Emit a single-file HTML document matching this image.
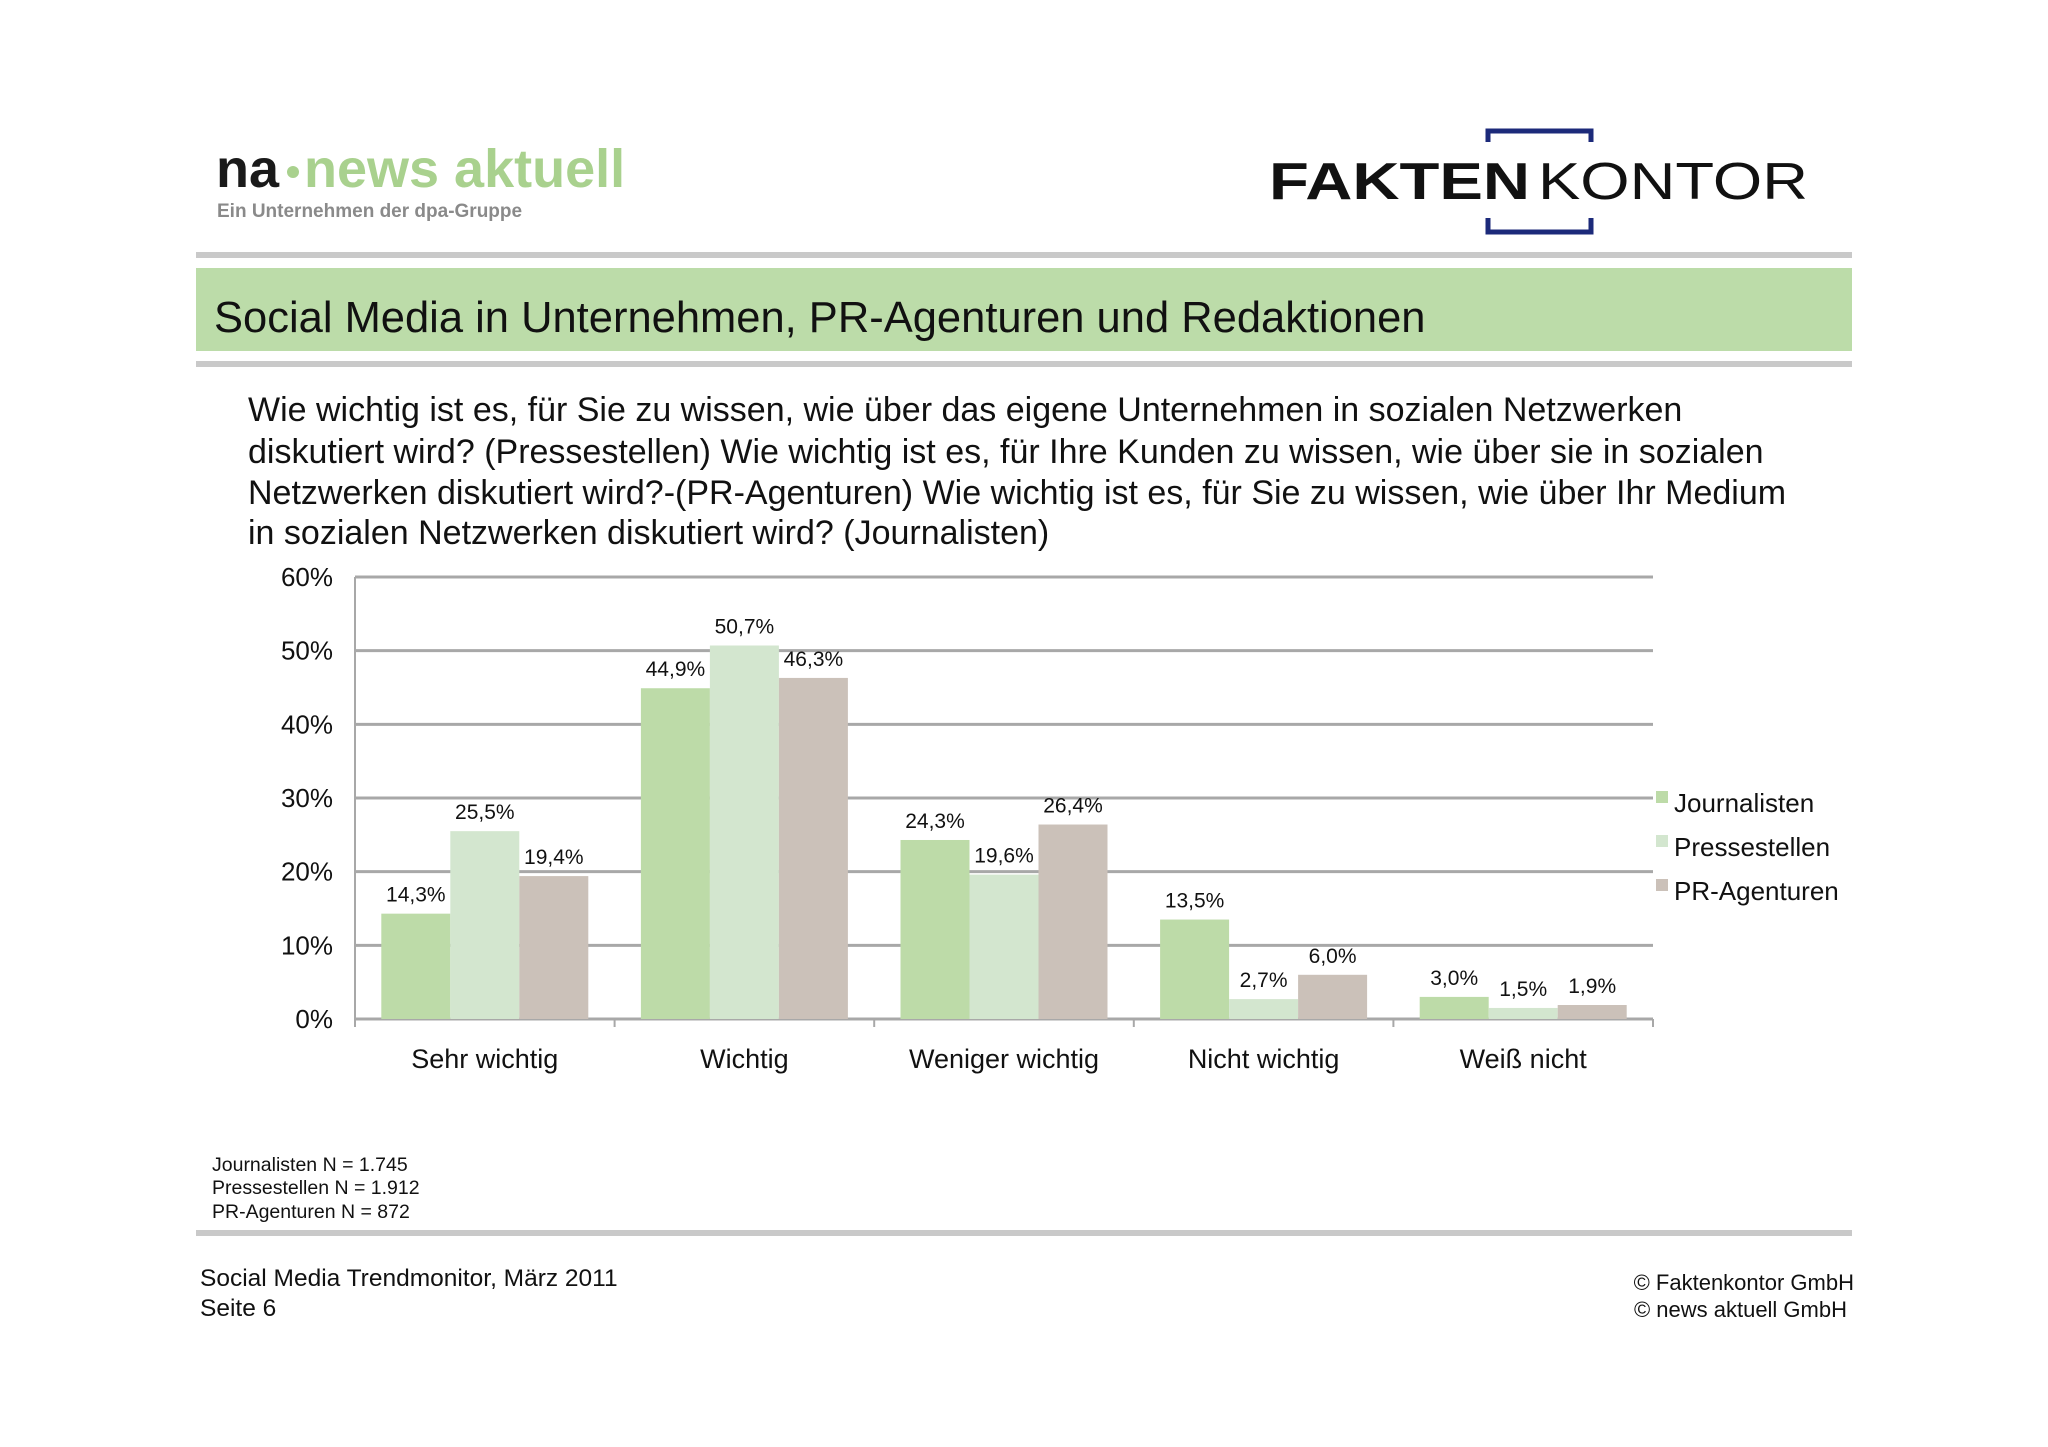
<!DOCTYPE html>
<html><head><meta charset="utf-8"><style>
html,body{margin:0;padding:0;background:#fff;}
svg{display:block;font-family:"Liberation Sans",Arial,sans-serif;}
</style></head><body>
<svg id="page" width="2048" height="1447" viewBox="0 0 2048 1447">
<g>
<text x="216" y="187" font-size="54" font-weight="bold" fill="#1a1a1a">na</text>
<circle cx="293" cy="172" r="6" fill="#a9d18e"/>
<text x="304" y="187" font-size="54" font-weight="bold" fill="#a9d18e">news aktuell</text>
<text x="217" y="217" font-size="19" font-weight="bold" fill="#8a8a8a">Ein Unternehmen der dpa-Gruppe</text>
</g>
<g>
<path d="M1488 142 V131 H1591 V142" fill="none" stroke="#1c2a7a" stroke-width="5"/>
<path d="M1488 218 V232 H1591 V218" fill="none" stroke="#1c2a7a" stroke-width="5"/>
<text x="1269" y="199" font-size="52" font-weight="bold" fill="#111" textLength="261" lengthAdjust="spacingAndGlyphs">FAKTEN</text>
<text x="1538" y="199" font-size="52" fill="#111" textLength="270" lengthAdjust="spacingAndGlyphs">KONTOR</text>
</g>
<rect x="196" y="252" width="1656" height="6" fill="#c9c9c9"/>
<rect x="196" y="268" width="1656" height="83" fill="#bcdca9"/>
<text x="214" y="332" font-size="43.5" fill="#111">Social Media in Unternehmen, PR-Agenturen und Redaktionen</text>
<rect x="196" y="361" width="1656" height="6" fill="#c9c9c9"/>
<g font-size="34" fill="#111">
<text x="248" y="421">Wie wichtig ist es, für Sie zu wissen, wie über das eigene Unternehmen in sozialen Netzwerken</text>
<text x="248" y="463">diskutiert wird? (Pressestellen) Wie wichtig ist es, für Ihre Kunden zu wissen, wie über sie in sozialen</text>
<text x="248" y="504">Netzwerken diskutiert wird?-(PR-Agenturen) Wie wichtig ist es, für Sie zu wissen, wie über Ihr Medium</text>
<text x="248" y="544">in sozialen Netzwerken diskutiert wird? (Journalisten)</text>
</g>
<g id="chart"></g>
<g font-size="19.5" fill="#111">
<text x="212" y="1171">Journalisten N = 1.745</text>
<text x="212" y="1194">Pressestellen N = 1.912</text>
<text x="212" y="1218">PR-Agenturen N = 872</text>
</g>
<rect x="196" y="1230" width="1656" height="6" fill="#c9c9c9"/>
<g font-size="24.5" fill="#111">
<text x="200" y="1286">Social Media Trendmonitor, März 2011</text>
<text x="200" y="1316">Seite 6</text>
</g>
<g font-size="22" fill="#111" text-anchor="end">
<text x="1854" y="1290">© Faktenkontor GmbH</text>
<text x="1847" y="1317">© news aktuell GmbH</text>
</g>
</svg>
<script>
const categories = ["Sehr wichtig","Wichtig","Weniger wichtig","Nicht wichtig","Weiß nicht"];
const seriesNames = ["Journalisten","Pressestellen","PR-Agenturen"];
const journalisten = [14.3,44.9,24.3,13.5,3.0];
const pressestellen = [25.5,50.7,19.6,2.7,1.5];
const prAgenturen = [19.4,46.3,26.4,6.0,1.9];
const yTicks = [0,10,20,30,40,50,60];
const series = [journalisten, pressestellen, prAgenturen];
const colors = ["#bddba8","#d3e6cf","#cbc1b9"];
const NS="http://www.w3.org/2000/svg";
const g=document.getElementById('chart');
const x0=355,x1=1653,yTop=577,yBot=1019,yMax=60;
const y=v=>yBot-(v/yMax)*(yBot-yTop);
const catW=(x1-x0)/categories.length;
const barW=69, pad=(catW-3*barW)/2;
function mk(tag,attrs,txt){const e=document.createElementNS(NS,tag);for(const k in attrs)e.setAttribute(k,attrs[k]);if(txt!==undefined)e.textContent=txt;g.appendChild(e);return e;}
yTicks.forEach(t=>{
  const l=mk('line',{x1:x0,x2:x1,y1:y(t),y2:y(t),stroke:'#a8a8a8','stroke-width':3});
  
  
  const tx=mk('text',{x:333,y:y(t)+9,'font-size':26,'text-anchor':'end',fill:'#111'},t+'%');
  
  
});
const ax=mk('line',{x1:x0,x2:x0,y1:yTop,y2:yBot+8,stroke:'#a8a8a8','stroke-width':2});


for(let i=0;i<=categories.length;i++){
  const tk=mk('line',{x1:x0+i*catW,x2:x0+i*catW,y1:yBot,y2:yBot+8,stroke:'#a8a8a8','stroke-width':2});
  
  
}
categories.forEach((c,i)=>{
  series.forEach((s,j)=>{
    const bx=x0+i*catW+pad+j*barW, v=s[i];
    const r=mk('rect',{x:bx,y:y(v),width:barW,height:yBot-y(v),fill:colors[j]});
    
    
    const lt=mk('text',{x:bx+barW/2,y:y(v)-12,'font-size':21,'text-anchor':'middle',fill:'#111'},v.toFixed(1).replace('.',',')+'%');
    
    
  });
  const cl=mk('text',{x:x0+(i+0.5)*catW,y:1068,'font-size':27,'text-anchor':'middle',fill:'#111'},c);
  
  
});
seriesNames.forEach((n,j)=>{
  const ly=803+j*44;
  const sq=mk('rect',{x:1656,y:ly-12,width:12,height:12,fill:colors[j]});
  
  
  const t=mk('text',{x:1674,y:ly+9,'font-size':26,fill:'#111'},n);
  
  
});
</script>
</body></html>
